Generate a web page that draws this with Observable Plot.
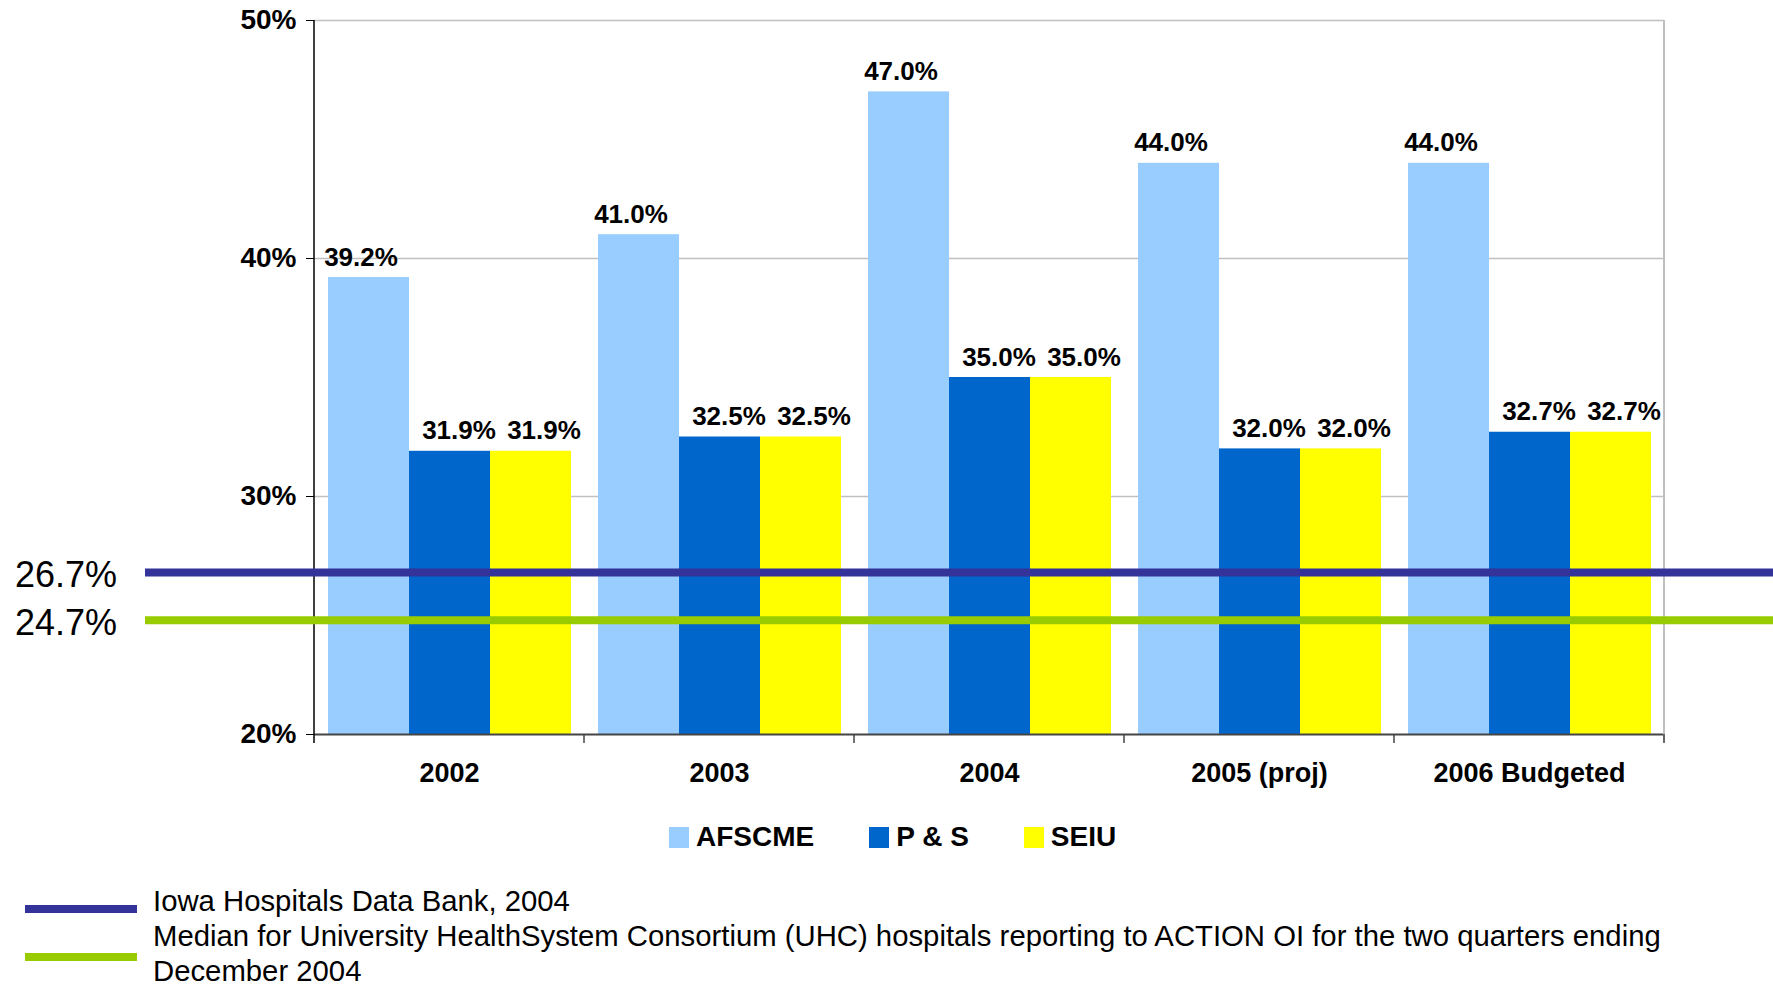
<!DOCTYPE html>
<html>
<head>
<meta charset="utf-8">
<script src="https://cdn.jsdelivr.net/npm/d3@7"></script>
<script src="https://cdn.jsdelivr.net/npm/@observablehq/plot@0.6"></script>
<style>
  body { margin: 0; background: #fff; font-family: "Liberation Sans", Arial, sans-serif; }
  #wrap { position: relative; width: 1773px; height: 986px; overflow: hidden; background: #fff; }
  #wrap svg { position: absolute; left: 0; top: 0; }
  .swatches { position: absolute; left: 669px; top: 821px; display: flex; align-items: center; font-weight: bold; font-size: 28px; color: #000; }
  .swatches .item { display: flex; align-items: center; margin-right: 55px; }
  .swatches .sw { width: 20px; height: 21px; margin-right: 7px; }
  .lines .ln { position: absolute; left: 25px; width: 112px; height: 8px; }
  .lines .tx { position: absolute; left: 153px; width: 1590px; font-size: 29.3px; line-height: 34.5px; color: #000; }
</style>
</head>
<body>
<div id="wrap"></div>
<script>
// ---- data ----
const years = ["2002", "2003", "2004", "2005 (proj)", "2006 Budgeted"];
const series = ["AFSCME", "P & S", "SEIU"];
const afscme = [39.2, 41.0, 47.0, 44.0, 44.0];
const ps = [31.9, 32.5, 35.0, 32.0, 32.7];
const seiu = [31.9, 32.5, 35.0, 32.0, 32.7];
const seriesColors = ["#99CCFF", "#0066CC", "#FFFF00"];
const yDomain = [20, 50];
const yTicks = [20, 30, 40, 50];
const refValues = [26.7, 24.7];
const refLabels = ["26.7%", "24.7%"];
const refColors = ["#333399", "#99CC00"];
const refNames = [
  "Iowa Hospitals Data Bank, 2004",
  "Median for University HealthSystem Consortium (UHC) hospitals reporting to ACTION OI for the two quarters ending December 2004"
];

// label horizontal nudges per series (style)
const labelShift = [-8, 9, 13];

const seriesValues = [afscme, ps, seiu];
const rows = years.flatMap((year, i) => series.map((s, j) => ({ year, series: s, value: seriesValues[j][i] })));

const plot = Plot.plot({
  width: 1773,
  height: 800,
  marginLeft: 312,
  marginRight: 107,
  marginTop: 20,
  marginBottom: 66,
  style: { fontFamily: "'Liberation Sans', Arial, sans-serif", background: "transparent", color: "#000" },
  fx: { domain: years, padding: 0 },
  x: { domain: series, paddingInner: 0, paddingOuter: 0.155 },
  y: { domain: yDomain },
  color: { domain: series, range: seriesColors },
  marks: [
    Plot.gridY(yTicks.slice(1), { stroke: "#c0c0c0", strokeOpacity: 1, strokeWidth: 1.5 }),
    Plot.barY(rows, { fx: "year", x: "series", y1: yDomain[0], y2: "value", fill: "series" }),
    Plot.ruleY([yDomain[0]], { stroke: "#444", strokeWidth: 2 }),
    ...series.map((s, j) => Plot.text(rows.filter(d => d.series === s), {
      fx: "year", x: "series", y: "value",
      text: d => d.value.toFixed(1) + "%",
      lineAnchor: "bottom", dy: -12, dx: labelShift[j],
      fontSize: 26, fontWeight: "bold", fill: "#000"
    })),
    Plot.axisY(yTicks, {
      anchor: "left", tickSize: 8, tickPadding: 10,
      tickFormat: d => d + "%", fontSize: 28, fontWeight: "bold", label: null, stroke: "#000"
    }),
    Plot.axisFx({
      anchor: "bottom", tickSize: 0, tickPadding: 28,
      fontSize: 27, fontWeight: "bold", label: null
    }),
    Plot.axisX({ ticks: [], label: null })
  ]
});

const wrap = document.getElementById("wrap");
wrap.appendChild(plot);

// decorations through the plot's own scales
const svg = d3.select(plot);
const fx = plot.scale("fx");
const y = plot.scale("y");
const left = fx.apply(years[0]);
const right = fx.apply(years[years.length - 1]) + fx.bandwidth;
const yTop = y.apply(yDomain[1]);
const yBot = y.apply(yDomain[0]);

const g = svg.append("g");
// right border
g.append("line").attr("x1", right).attr("x2", right).attr("y1", yTop).attr("y2", yBot + 8)
  .attr("stroke", "#c0c0c0").attr("stroke-width", 2);
// category boundary ticks
const bounds = years.map(yr => fx.apply(yr)).concat([right]);
g.selectAll("line.bt").data(bounds.slice(1)).join("line").attr("class", "bt")
  .attr("x1", d => d).attr("x2", d => d).attr("y1", yBot).attr("y2", yBot + 9)
  .attr("stroke", "#444").attr("stroke-width", 1.5);
// y axis line
g.append("line").attr("x1", left).attr("x2", left).attr("y1", yTop).attr("y2", yBot + 9)
  .attr("stroke", "#000").attr("stroke-width", 1.5);

// reference lines
refValues.forEach((v, i) => {
  const yy = y.apply(v) - 2;
  g.append("line").attr("x1", left - 169).attr("x2", 1773).attr("y1", yy).attr("y2", yy)
    .attr("stroke", refColors[i]).attr("stroke-width", 8);
  g.append("text").attr("x", 15).attr("y", yy + 2).attr("dy", "0.35em")
    .attr("text-anchor", "start")
    .attr("font-size", 36).attr("font-weight", "normal").attr("fill", "#000").text(refLabels[i]);
});

// series legend
const sw = d3.select(wrap).append("div").attr("class", "swatches");
series.forEach((s, i) => {
  const it = sw.append("div").attr("class", "item");
  it.append("div").attr("class", "sw").style("background", seriesColors[i]);
  it.append("span").text(s);
});

// reference line legend
const lg = d3.select(wrap).append("div").attr("class", "lines");
const lineTops = [905, 953];
const textTops = [884, 919];
refNames.forEach((n, i) => {
  lg.append("div").attr("class", "ln").style("top", lineTops[i] + "px").style("background", refColors[i]);
  lg.append("div").attr("class", "tx").style("top", textTops[i] + "px").text(n);
});
</script>
</body>
</html>
